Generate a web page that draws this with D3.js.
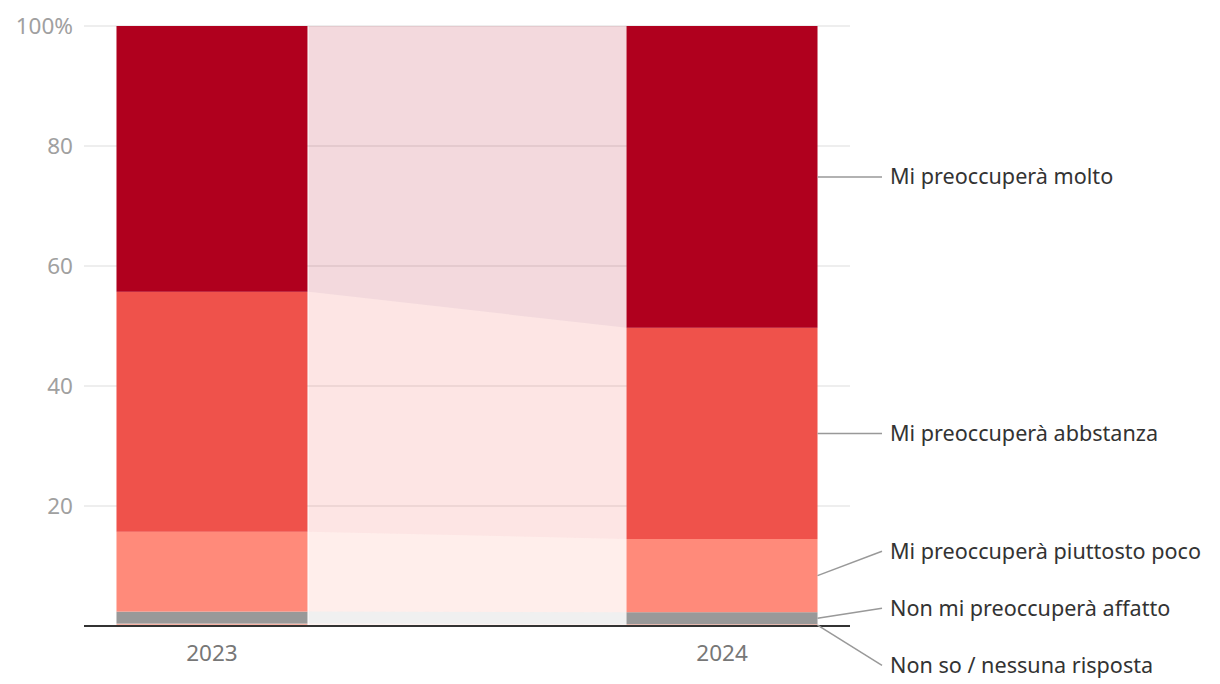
<!DOCTYPE html>
<html><head><meta charset="utf-8">
<script src="https://cdn.jsdelivr.net/npm/d3@7"></script>
<style>
body{margin:0;background:#fff;}
svg{display:block;font-family:"Noto Sans","Open Sans",sans-serif;}
</style></head>
<body><svg id="c" width="1220" height="684"></svg>
<script>
const years = ["2023", "2024"];
const seriesNames = ["Non so / nessuna risposta", "Non mi preoccuperà affatto", "Mi preoccuperà piuttosto poco", "Mi preoccuperà abbstanza", "Mi preoccuperà molto"];
const values2023 = [0.4, 2.0, 13.3, 40.0, 44.3];
const values2024 = [0.3, 2.0, 12.2, 35.2, 50.3];
const seriesColors = ["#f7b2a4", "#999999", "#ff8a7a", "#ef524b", "#b0001e"];
const yTicks = [0, 20, 40, 60, 80, 100];

const svg = d3.select("#c");
const x = d3.scaleBand().domain(years).range([84, 850]).paddingInner(0.6255).paddingOuter(0.0637);
const y = d3.scaleLinear().domain([0, 100]).range([626, 26]);

const rows = years.map((yr, i) => {
  const o = {year: yr};
  const vals = i === 0 ? values2023 : values2024;
  seriesNames.forEach((s, j) => o[s] = vals[j]);
  return o;
});
const stacked = d3.stack().keys(seriesNames)(rows);

// grid
svg.append("g").selectAll("line").data(yTicks.filter(d => d > 0)).join("line")
  .attr("x1", 84).attr("x2", 850).attr("y1", d => y(d)).attr("y2", d => y(d))
  .attr("stroke", "#dddddd").attr("stroke-width", 1);

// y tick labels
svg.append("g").selectAll("text").data(yTicks.filter(d => d > 0)).join("text")
  .attr("x", 73).attr("y", d => y(d)).attr("dy", "0.35em").attr("text-anchor", "end")
  .attr("fill", "#a0a0a0").attr("font-size", 22.5)
  .text(d => d === 100 ? "100%" : d);

// ribbons
const x0 = x(years[0]) + x.bandwidth() + 1, x1 = x(years[1]);
svg.append("g").selectAll("path").data(stacked).join("path")
  .attr("d", s => {
    const a = s[0], b = s[1];
    return `M${x0},${y(a[1])}L${x1},${y(b[1])}L${x1},${y(b[0])}L${x0},${y(a[0])}Z`;
  })
  .attr("fill", (s, i) => seriesColors[i]).attr("fill-opacity", 0.15);

// bars
svg.append("g").selectAll("g").data(stacked).join("g")
  .attr("fill", (s, i) => seriesColors[i])
  .selectAll("rect").data(s => s).join("rect")
  .attr("x", d => x(d.data.year)).attr("width", x.bandwidth())
  .attr("y", d => y(d[1])).attr("height", d => y(d[0]) - y(d[1]));

// baseline axis
svg.append("line").attr("x1", 84).attr("x2", 850).attr("y1", 626).attr("y2", 626)
  .attr("stroke", "#333").attr("stroke-width", 2);

// x labels
svg.append("g").selectAll("text").data(years).join("text")
  .attr("x", d => x(d) + x.bandwidth() / 2).attr("y", 661).attr("text-anchor", "middle")
  .attr("fill", "#777").attr("font-size", 22.5).text(d => d);

// labels with collision avoidance
const last = stacked.map(s => ({name: s.key, mid: y((s[1][0] + s[1][1]) / 2)}));
const minGap = 57;
let groups = last.slice().sort((a, b) => a.mid - b.mid).map(d => ({items: [d], center: d.mid}));
let changed = true;
while (changed) {
  changed = false;
  for (let i = 0; i < groups.length - 1; i++) {
    const g1 = groups[i], g2 = groups[i + 1];
    const bottom1 = g1.center + (g1.items.length - 1) * minGap / 2;
    const top2 = g2.center - (g2.items.length - 1) * minGap / 2;
    if (top2 - bottom1 < minGap) {
      const items = g1.items.concat(g2.items);
      const center = d3.mean(items, d => d.mid) + 2;
      groups.splice(i, 2, {items, center});
      changed = true; break;
    }
  }
}
groups.forEach(g => g.items.forEach((d, k) => d.ly = g.center + (k - (g.items.length - 1) / 2) * minGap));

const lx0 = x(years[1]) + x.bandwidth();
const lab = svg.append("g").selectAll("g").data(last).join("g");
lab.append("line").attr("x1", lx0).attr("y1", d => d.mid).attr("x2", 882).attr("y2", d => d.ly)
  .attr("stroke", "#999").attr("stroke-width", 1.5);
lab.append("text").attr("x", 890).attr("y", d => d.ly).attr("dy", "0.35em")
  .attr("fill", "#333").attr("font-size", 21.6).text(d => d.name);
</script></body></html>
